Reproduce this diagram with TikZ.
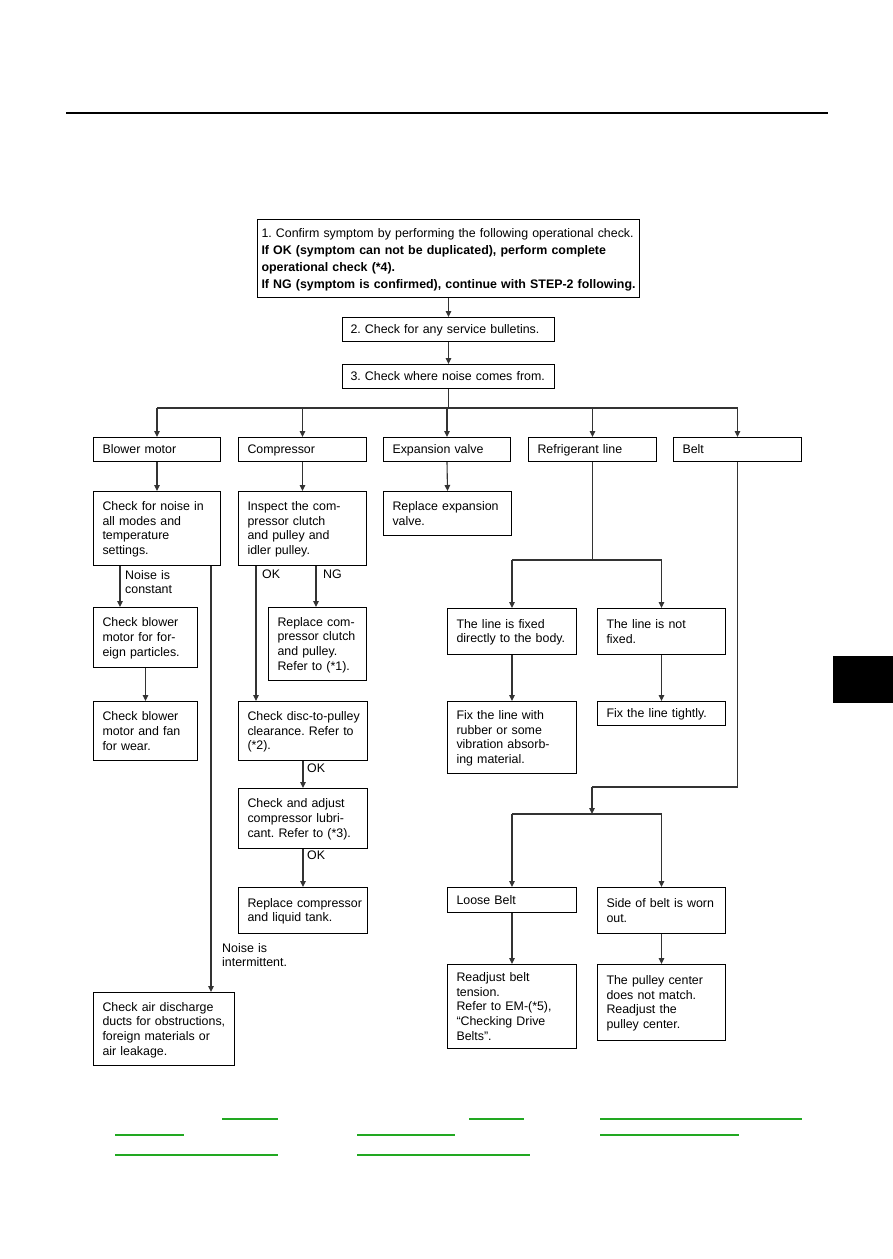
\documentclass[tikz,border=0pt]{standalone}
\usepackage{fontspec}
\setmainfont{Liberation Sans}[WordSpace=1.25]
\usetikzlibrary{arrows.meta}
\definecolor{linkgreen}{RGB}{34,168,34}
\newcommand{\topstrut}{\rule{0pt}{10.8pt}}
\newcommand{\botstrut}{\rule[-2pt]{0pt}{2pt}}
\newcommand{\boxfont}{\fontsize{12.4}{14.7}\selectfont\frenchspacing}
\newcommand{\headfont}{\fontsize{12.4}{17}\selectfont\frenchspacing}
\begin{document}
\begin{tikzpicture}[x=1pt,y=-1pt,
  box/.style={draw=black, line width=1pt, anchor=north west, align=left,
    inner xsep=9pt, inner ysep=0pt, font=\boxfont,
    execute at begin node=\topstrut, execute at end node=\botstrut},
  lbl/.style={anchor=north west, align=left, inner sep=0pt, font=\boxfont},
  ln/.style={draw=black!80, line width=1.1pt},
  arr/.style={ln, -{Triangle[length=6pt,width=5.5pt]}},
  glink/.style={draw=linkgreen, line width=1.6pt}]
\useasboundingbox (0,0) rectangle (893,1259);
\fill[white] (0,0) rectangle (893,1259);
% header rule and side tab
\draw[line width=2.6pt] (66,113) -- (828,113);
\fill[black] (833,656) rectangle (893,703);

% top boxes
\node[box, font=\headfont, inner xsep=4pt, text width=374pt, minimum height=78pt] (b1) at (257,219)
  {\mbox{1. Confirm symptom by performing the following operational check.}\\
   \mbox{\textbf{If OK (symptom can not be duplicated), perform complete}}\\
   \mbox{\textbf{operational check (*4).}}\\
   \mbox{\textbf{If NG (symptom is confirmed), continue with STEP-2 following.}}};
\node[box, inner xsep=8pt, text width=196pt, minimum height=24pt] (b2) at (342,317)
  {2. Check for any service bulletins.};
\node[box, inner xsep=8pt, text width=196pt, minimum height=24pt] (b3) at (342,364)
  {3. Check where noise comes from.};

% category row
\node[box, text width=109pt, minimum height=24pt] (blower) at (93,437) {Blower motor};
\node[box, text width=110pt, minimum height=24pt] (compressor) at (238,437) {Compressor};
\node[box, text width=109pt, minimum height=24pt] (expansion) at (383,437) {Expansion valve};
\node[box, text width=110pt, minimum height=24pt] (refr) at (528,437) {Refrigerant line};
\node[box, text width=110pt, minimum height=24pt] (belt) at (673,437) {Belt};

% blower column
\node[box, text width=109pt, minimum height=74pt] (chkNoise) at (93,491)
  {Check for noise in\\all modes and\\temperature\\settings.};
\node[box, text width=86pt, minimum height=60pt] (blowPart) at (93,607)
  {Check blower\\motor for for-\\eign particles.};
\node[box, text width=86pt, minimum height=59pt] (blowFan) at (93,701)
  {Check blower\\motor and fan\\for wear.};
\node[box, text width=123pt, minimum height=73pt] (airDuct) at (93,992)
  {Check air discharge\\\mbox{ducts for obstructions,}\\foreign materials or\\air leakage.};

% compressor column
\node[box, text width=110pt, minimum height=74pt] (inspect) at (238,491)
  {Inspect the com-\\pressor clutch\\and pulley and\\idler pulley.};
\node[box, text width=80pt, minimum height=73pt] (replClutch) at (268,607)
  {Replace com-\\\mbox{pressor clutch}\\and pulley.\\Refer to (*1).};
\node[box, text width=111pt, minimum height=59pt] (disc) at (238,701)
  {\mbox{Check disc-to-pulley}\\clearance. Refer to\\(*2).};
\node[box, text width=111pt, minimum height=60pt] (lubric) at (238,788)
  {Check and adjust\\compressor lubri-\\\mbox{cant. Refer to (*3).}};
\node[box, text width=111pt, minimum height=46pt] (replComp) at (238,887)
  {\mbox{Replace compressor}\\and liquid tank.};

% expansion column
\node[box, text width=110pt, minimum height=44pt] (replExp) at (383,491)
  {Replace expansion\\valve.};

% refrigerant column
\node[box, text width=111pt, minimum height=46pt] (lineFixed) at (447,608)
  {The line is fixed\\\mbox{directly to the body.}};
\node[box, text width=110pt, minimum height=46pt] (lineNot) at (597,608)
  {The line is not\\fixed.};
\node[box, text width=111pt, minimum height=72pt] (fixRubber) at (447,701)
  {Fix the line with\\rubber or some\\vibration absorb-\\ing material.};
\node[box, text width=110pt, minimum height=24pt] (fixTight) at (597,701)
  {Fix the line tightly.};

% belt column
\node[box, text width=111pt, minimum height=25pt] (loose) at (447,887) {Loose Belt};
\node[box, text width=110pt, minimum height=46pt] (sideWorn) at (597,887)
  {\mbox{Side of belt is worn}\\out.};
\node[box, text width=111pt, minimum height=84pt] (readjBelt) at (447,964)
  {Readjust belt\\tension.\\Refer to EM-(*5),\\“Checking Drive\\Belts”.};
\node[box, text width=110pt, minimum height=76pt] (pulleyCtr) at (597,964)
  {The pulley center\\does not match.\\Readjust the\\pulley center.};

% labels
\node[lbl] (lNc) at (125,570) {Noise is\\constant};
\node[lbl] (lNi) at (222,943) {Noise is\\intermittent.};
\node[lbl] (lOk1) at (262,570) {OK};
\node[lbl] (lNg) at (323,570) {NG};
\node[lbl] (lOk2) at (307,764) {OK};
\node[lbl] (lOk3) at (307,851) {OK};

% helper coordinates
\coordinate (h1) at (0,408);
\coordinate (rs) at (0,560);
\coordinate (ncx) at (120,0);
\coordinate (nix) at (211,0);
\coordinate (okx) at (256,0);
\coordinate (ngx) at (316,0);
\coordinate (bk) at (592,787);
\coordinate (bs) at (592,814);

% connectors
\draw[arr] (b1.south -| b2.north) -- (b2.north);
\draw[arr] (b2.south) -- (b3.north);
\draw[ln] (b3.south) -- (b3.south |- h1);
\draw[ln] (blower.north |- h1) -- (belt.north |- h1);
\foreach \n in {blower,compressor,expansion,refr,belt}
  \draw[arr] (\n.north |- h1) -- (\n.north);

\draw[arr] (blower.south) -- (chkNoise.north);
\draw[arr] (chkNoise.south -| ncx) -- (blowPart.north -| ncx);
\draw[arr] (blowPart.south) -- (blowFan.north);
\draw[arr] (chkNoise.south -| nix) -- (airDuct.north -| nix);

\draw[arr] (compressor.south) -- (inspect.north);
\draw[arr] (inspect.south -| okx) -- (disc.north -| okx);
\draw[arr] (inspect.south -| ngx) -- (replClutch.north -| ngx);
\draw[arr] (disc.south) -- (lubric.north);
\draw[arr] (lubric.south) -- (replComp.north);

\draw[arr] (expansion.south) -- (replExp.north);

\draw[ln] (refr.south) -- (refr.south |- rs);
\draw[ln] (lineFixed.north |- rs) -- (lineNot.north |- rs);
\draw[arr] (lineFixed.north |- rs) -- (lineFixed.north);
\draw[arr] (lineNot.north |- rs) -- (lineNot.north);
\draw[arr] (lineFixed.south) -- (fixRubber.north);
\draw[arr] (lineNot.south) -- (fixTight.north);

\draw[ln] (belt.south) |- (bk);
\draw[arr] (bk) -- (bs);
\draw[ln] (loose.north |- bs) -- (sideWorn.north |- bs);
\draw[arr] (loose.north |- bs) -- (loose.north);
\draw[arr] (sideWorn.north |- bs) -- (sideWorn.north);
\draw[arr] (loose.south) -- (readjBelt.north);
\draw[arr] (sideWorn.south) -- (pulleyCtr.north);

% footer link underlines
\draw[glink] (222,1119) -- (278,1119);
\draw[glink] (469,1119) -- (524,1119);
\draw[glink] (600,1119) -- (802,1119);
\draw[glink] (115,1135) -- (184,1135);
\draw[glink] (357,1135) -- (455,1135);
\draw[glink] (600,1135) -- (739,1135);
\draw[glink] (115,1155) -- (278,1155);
\draw[glink] (357,1155) -- (530,1155);
\end{tikzpicture}
\end{document}
